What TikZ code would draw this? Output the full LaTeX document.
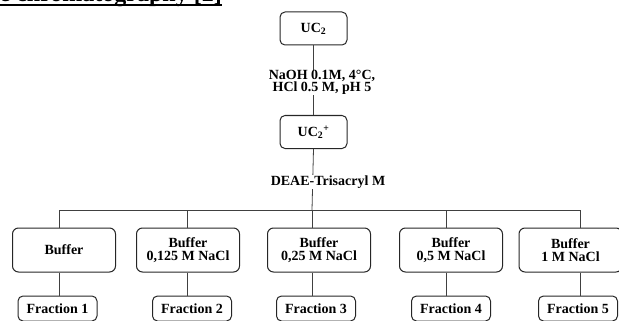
\documentclass[tikz,border=0pt]{standalone}
\usepackage{fontspec}
\setmainfont{Liberation Serif}
\usetikzlibrary{positioning}

\begin{document}
\begin{tikzpicture}[x=1pt,y=-1pt,
  txt/.style={font=\fontsize{14}{13}\selectfont\bfseries,align=center},
  sbox/.style={txt,draw=black!85,line width=1pt,rounded corners=5pt,minimum width=67pt,minimum height=33pt,inner sep=0pt},
  bbox/.style={txt,draw=black!85,line width=1pt,rounded corners=6pt,minimum width=103pt,minimum height=44pt,inner sep=0pt},
  fbox/.style={txt,draw=black!85,line width=1pt,rounded corners=5pt,minimum width=79pt,minimum height=25pt,inner sep=0pt},
  cond/.style={font=\fontsize{14}{12}\selectfont\bfseries,align=center,fill=white,inner sep=0.5pt},
  wire/.style={draw=black!75,line width=0.8pt}]

\useasboundingbox (0,0) rectangle (619,321);
\clip (0,0) rectangle (619,321);

% heading, cut by the frame
\node (title) [anchor=base east,inner sep=0pt,font=\fontsize{24}{24}\selectfont\bfseries] at (222,2) {e chromatography [2]};
\draw[line width=1.5pt] ([yshift=-3pt]title.base west) -- ([yshift=-3pt]title.base east);

\node[sbox] (uc)  at (313.5,28.5)                        {UC\textsubscript{2}};
\node[sbox] (ucp) [on grid,below=103.5pt of uc]         {UC\textsubscript{2}\textsuperscript{+}};

\node[bbox] (b3) [on grid,below right=118pt and 5.5pt of ucp] {Buffer\\0,25 M NaCl};
\node[bbox] (b2) [on grid,left=131pt of b3]                  {Buffer\\0,125 M NaCl};
\node[bbox] (b1) [on grid,left=124pt of b2]                  {Buffer};
\node[bbox] (b4) [on grid,right=132pt of b3]                 {Buffer\\0,5 M NaCl};
\node[bbox] (b5) [on grid,right=119.5pt of b4]               {Buffer\\1 M NaCl};

\node[fbox] (f1) [on grid,below left=58.5pt and 6.5pt of b1]  {Fraction 1};
\node[fbox] (f2) [on grid,below right=58.5pt and 4pt of b2]   {Fraction 2};
\node[fbox] (f3) [on grid,below left=58.5pt and 3pt of b3]    {Fraction 3};
\node[fbox] (f4) [on grid,below=58.5pt of b4]                 {Fraction 4};
\node[fbox] (f5) [on grid,below right=58.5pt and 7.5pt of b5] {Fraction 5};

% bus and drops
\coordinate (bus1) at (59,210);
\coordinate (bus2) at (187,210);
\coordinate (bus3) at (312,210);
\coordinate (bus4) at (446,210);
\coordinate (bus5) at (580,210);

\draw[wire] (uc) -- (ucp);
\draw[wire] (ucp.south) -- (bus3);
\draw[wire] (bus1) -- (bus5);
\foreach \i in {1,...,5} {
  \draw[wire] (bus\i) -- (bus\i |- b\i.north);
  \draw[wire] (bus\i |- b\i.south) -- (bus\i |- f\i.north);
}

\node[cond] (treat) [on grid,below right=54pt and 8.5pt of uc]  {NaOH 0.1M, 4°C,\\HCl 0.5 M, pH 5};
\node[cond] (deae)  [on grid,below right=50pt and 14.5pt of ucp] {DEAE-Trisacryl M};

\end{tikzpicture}
\end{document}
